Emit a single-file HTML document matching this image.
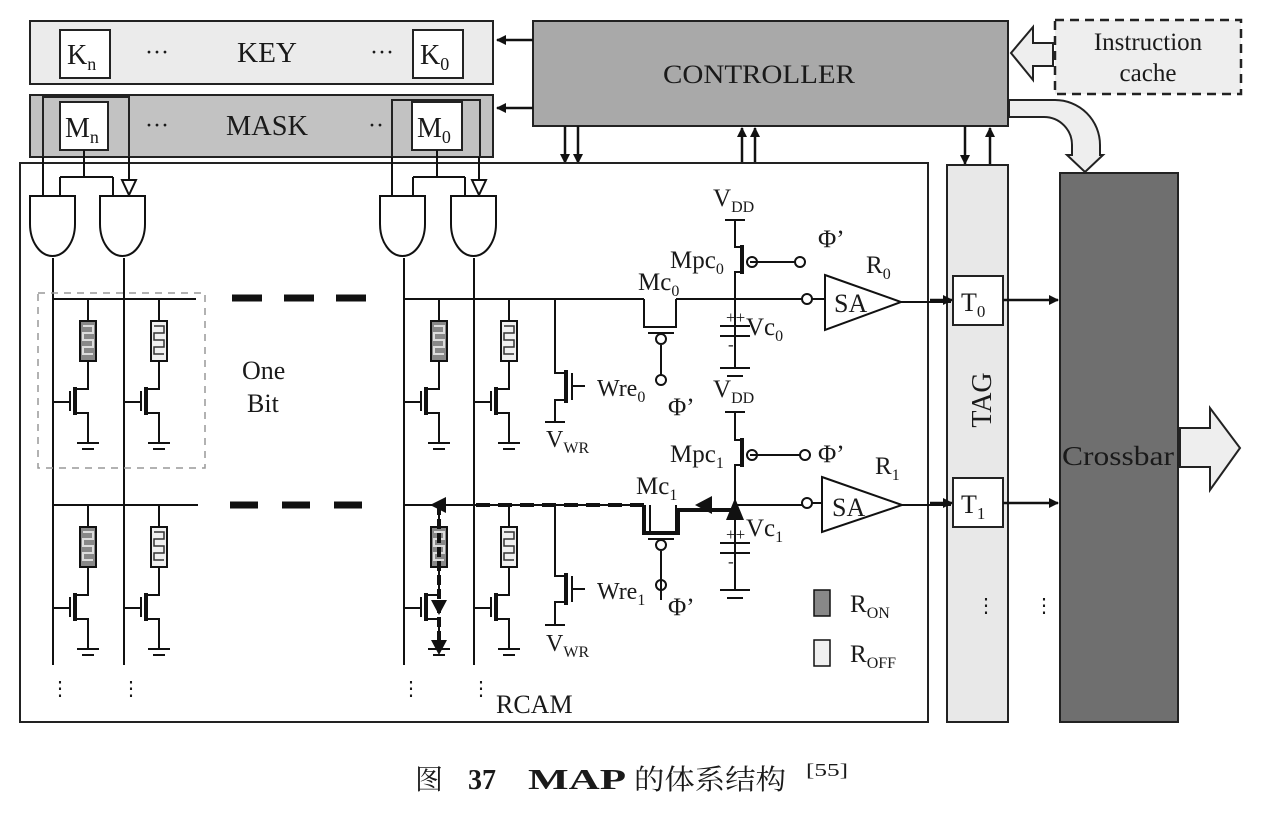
<!DOCTYPE html>
<html><head><meta charset="utf-8"><style>
html,body{margin:0;padding:0;background:#fff;}
svg{display:block;}
text{font-family:"Liberation Serif","Noto Serif CJK SC",serif;fill:#1a1a1a;}
</style></head><body>
<svg width="1280" height="813" viewBox="0 0 1280 813" xmlns="http://www.w3.org/2000/svg">
<defs>
<marker id="ah" markerWidth="10" markerHeight="10" refX="9" refY="5" orient="auto" markerUnits="userSpaceOnUse"><path d="M0,0 L10,5 L0,10 Z" fill="#111"/></marker>
<g id="cellOn" stroke="#111" stroke-width="2" fill="none">
<path d="M35,0 V22 M35,62 V90 H22 M22,114 H35 V144 M24,144 H46 M29,150 H41 M0,103 H17 M17,92 V112"/>
<path d="M22,88 V116" stroke-width="4"/>
<rect x="27" y="22" width="16" height="40" fill="#888"/>
<path d="M30,27 H40 V34 H30 V41 H40 V48 H30 V55 H40" stroke="#ddd" stroke-width="2"/>
</g>
<g id="cellOff" stroke="#111" stroke-width="2" fill="none">
<path d="M35,0 V22 M35,62 V90 H22 M22,114 H35 V144 M24,144 H46 M29,150 H41 M0,103 H17 M17,92 V112"/>
<path d="M22,88 V116" stroke-width="4"/>
<rect x="27" y="22" width="16" height="40" fill="#f0f0f0"/>
<path d="M30,27 H40 V34 H30 V41 H40 V48 H30 V55 H40" stroke="#333" stroke-width="1.5"/>
</g>
<g id="andg" stroke="#111" stroke-width="2" fill="#fff">
<path d="M0,0 H45 V28 A22.5,32 0 0 1 0,28 Z"/>
</g>
</defs>

<!-- KEY -->
<rect x="30" y="21" width="463" height="63" fill="#ebebeb" stroke="#222" stroke-width="2"/>
<rect x="60" y="30" width="50" height="48" fill="#fff" stroke="#222" stroke-width="2"/>
<rect x="413" y="30" width="50" height="48" fill="#fff" stroke="#222" stroke-width="2"/>
<text x="67" y="64" font-size="28">K<tspan font-size="18" dy="6">n</tspan></text>
<text x="420" y="64" font-size="28">K<tspan font-size="18" dy="6">0</tspan></text>
<text x="145" y="60" font-size="24">···</text>
<text x="370" y="60" font-size="24">···</text>
<text x="237" y="62" font-size="28" textLength="60" lengthAdjust="spacingAndGlyphs">KEY</text>
<!-- MASK -->
<rect x="30" y="95" width="463" height="62" fill="#c2c2c2" stroke="#222" stroke-width="2"/>
<rect x="43" y="97" width="86" height="60" fill="none" stroke="#222" stroke-width="2"/>
<rect x="392" y="100" width="88" height="57" fill="none" stroke="#222" stroke-width="2"/>
<rect x="60" y="102" width="48" height="48" fill="#fff" stroke="#222" stroke-width="2"/>
<rect x="412" y="102" width="50" height="48" fill="#fff" stroke="#222" stroke-width="2"/>
<text x="65" y="137" font-size="28">M<tspan font-size="18" dy="6">n</tspan></text>
<text x="417" y="137" font-size="28">M<tspan font-size="18" dy="6">0</tspan></text>
<text x="145" y="133" font-size="24">···</text>
<text x="368" y="133" font-size="24">··</text>
<text x="226" y="135" font-size="28" textLength="82" lengthAdjust="spacingAndGlyphs">MASK</text>

<!-- CONTROLLER -->
<rect x="533" y="21" width="475" height="105" fill="#a9a9a9" stroke="#222" stroke-width="2"/>
<text x="663" y="83" font-size="26" textLength="192" lengthAdjust="spacingAndGlyphs">CONTROLLER</text>
<line x1="533" y1="40" x2="497" y2="40" stroke="#111" stroke-width="2.5" marker-end="url(#ah)"/>
<line x1="533" y1="108" x2="497" y2="108" stroke="#111" stroke-width="2.5" marker-end="url(#ah)"/>
<!-- instruction cache -->
<rect x="1055" y="20" width="186" height="74" fill="#eeeeee" stroke="#222" stroke-width="2.5" stroke-dasharray="9,6"/>
<text x="1148" y="50" font-size="25" text-anchor="middle">Instruction</text>
<text x="1148" y="81" font-size="25" text-anchor="middle">cache</text>
<path d="M1053,43 H1033 V27 L1011,53 L1033,80 V66 H1053 Z" fill="#eee" stroke="#222" stroke-width="2"/>
<!-- curved arrow to crossbar -->
<path d="M1009,100 H1055 A45,45 0 0 1 1100,145 V155 H1103 L1085,172 L1067,155 H1072 V145 A28,28 0 0 0 1044,117 H1009 Z" fill="#eee" stroke="#222" stroke-width="2"/>

<!-- controller arrows -->
<g stroke="#111" stroke-width="2.5">
<line x1="565" y1="126" x2="565" y2="163" marker-end="url(#ah)"/>
<line x1="578" y1="126" x2="578" y2="163" marker-end="url(#ah)"/>
<line x1="742" y1="163" x2="742" y2="128" marker-end="url(#ah)"/>
<line x1="755" y1="163" x2="755" y2="128" marker-end="url(#ah)"/>
<line x1="965" y1="126" x2="965" y2="164" marker-end="url(#ah)"/>
<line x1="990" y1="165" x2="990" y2="128" marker-end="url(#ah)"/>
</g>

<!-- RCAM box -->
<rect x="20" y="163" width="908" height="559" fill="none" stroke="#222" stroke-width="2"/>
<!-- TAG -->
<rect x="947" y="165" width="61" height="557" fill="#e8e8e8" stroke="#222" stroke-width="2"/>
<text transform="translate(991,400) rotate(-90)" font-size="28" text-anchor="middle">TAG</text>
<rect x="953" y="276" width="50" height="49" fill="#fff" stroke="#222" stroke-width="2"/>
<rect x="953" y="478" width="50" height="49" fill="#fff" stroke="#222" stroke-width="2"/>
<text x="961" y="311" font-size="26">T<tspan font-size="17" dy="6">0</tspan></text>
<text x="961" y="513" font-size="26">T<tspan font-size="17" dy="6">1</tspan></text>
<!-- Crossbar -->
<rect x="1060" y="173" width="118" height="549" fill="#6f6f6f" stroke="#222" stroke-width="2"/>
<text x="1062" y="465" font-size="27" textLength="112" lengthAdjust="spacingAndGlyphs">Crossbar</text>
<path d="M1180,428 H1210 V408 L1240,448 L1210,490 V467 H1180 Z" fill="#eee" stroke="#222" stroke-width="2"/>

<!-- gate wiring -->
<g stroke="#111" stroke-width="2" fill="none">
<path d="M43,157 V196 M129,157 V180 M84,150 V177 M60,177 H113 M60,177 V196 M113,177 V196"/>
<path d="M392,157 V196 M479,157 V180 M437,150 V177 M413,177 H465 M413,177 V196 M465,177 V196"/>
<path d="M122,180 H136 L129,195 Z M472,180 H486 L479,195 Z" fill="#fff"/>
</g>
<use href="#andg" x="30" y="196"/>
<use href="#andg" x="100" y="196"/>
<use href="#andg" x="380" y="196"/>
<use href="#andg" x="451" y="196"/>

<!-- bitlines -->
<g stroke="#111" stroke-width="2">
<line x1="53" y1="258" x2="53" y2="665"/>
<line x1="124" y1="258" x2="124" y2="665"/>
<line x1="404" y1="258" x2="404" y2="665"/>
<line x1="474" y1="258" x2="474" y2="665"/>
<line x1="53" y1="299" x2="196" y2="299"/>
<line x1="53" y1="505" x2="198" y2="505"/>
<line x1="404" y1="299" x2="644" y2="299"/>
<line x1="404" y1="505" x2="644" y2="505"/>
</g>
<g stroke="#111" stroke-width="7">
<path d="M232,298 H262 M284,298 H314 M336,298 H366"/>
<path d="M230,505 H258 M282,505 H310 M334,505 H362"/>
</g>
<rect x="38" y="293" width="167" height="175" fill="none" stroke="#999" stroke-width="1.5" stroke-dasharray="7,6"/>
<text x="242" y="379" font-size="26">One</text>
<text x="247" y="412" font-size="26">Bit</text>

<use href="#cellOn" x="53" y="299"/>
<use href="#cellOff" x="124" y="299"/>
<use href="#cellOn" x="404" y="299"/>
<use href="#cellOff" x="474" y="299"/>
<use href="#cellOn" x="53" y="505"/>
<use href="#cellOff" x="124" y="505"/>
<use href="#cellOn" x="404" y="505"/>
<use href="#cellOff" x="474" y="505"/>

<!-- bold highlight in row1 -->
<g stroke="#111" stroke-width="4" fill="none">
<path d="M439,505 V650" stroke-dasharray="10,4"/>
<path d="M476,505 H644" stroke-dasharray="14,8"/>
</g>
<path d="M430,505 L446,497 V513 Z M431,600 H447 L439,615 Z M431,640 H447 L439,655 Z" fill="#111"/>

<!-- VWR transistors -->
<g stroke="#111" stroke-width="2" fill="none">
<path d="M555,299 V373 H566 M566,400 H555 V422 M545,422 H565 M572,373 V400 M572,386 H585"/>
<path d="M566,370 V403" stroke-width="4"/>
<path d="M555,505 V576 H566 M566,602 H555 V625 M545,625 H565 M572,576 V602 M572,589 H585"/>
<path d="M566,573 V605" stroke-width="4"/>
</g>
<text x="597" y="396" font-size="24">Wre<tspan font-size="16" dy="6">0</tspan></text>
<text x="597" y="599" font-size="24">Wre<tspan font-size="16" dy="6">1</tspan></text>
<text x="546" y="447" font-size="24">V<tspan font-size="16" dy="6">WR</tspan></text>
<text x="546" y="651" font-size="24">V<tspan font-size="16" dy="6">WR</tspan></text>

<!-- row 0 right circuit -->
<g stroke="#111" stroke-width="2" fill="none">
<path d="M644,299 V327 H676 V299 M648,333 H674 M661,345 V375 M676,299 H802 M735,220 V247 H742 M742,272 H735 V340 M725,220 H745 M735,340 V368 M720,368 H750 M727,376 H743 M720,326 H750 M720,336 H750 M750,262 H795"/>
<path d="M742,245 V274" stroke-width="4"/>
<circle cx="661" cy="339" r="5"/><circle cx="661" cy="380" r="5"/>
<circle cx="752" cy="262" r="5"/><circle cx="800" cy="262" r="5"/>
<circle cx="807" cy="299" r="5"/>
<path d="M812,299 H825 M825,275 L901,302 L825,330 Z M901,302 H951"/>
</g>
<!-- row 1 -->
<g stroke="#111" stroke-width="2" fill="none">
<path d="M650,505 V533 H676 V505 M648,539 H674 M661,551 V600 M735,412 V440 H742 M742,465 H735 V590 M725,412 H745 M720,590 H750 M727,598 H743 M720,543 H750 M720,553 H750 M750,455 H800 M735,505 H802"/>
<path d="M742,438 V467" stroke-width="4"/>
<path d="M644,505 V533 H678 V510 H735" stroke-width="4"/>
<circle cx="661" cy="545" r="5"/><circle cx="661" cy="585" r="5"/>
<circle cx="752" cy="455" r="5"/><circle cx="805" cy="455" r="5"/>
<circle cx="807" cy="503" r="5"/>
<path d="M812,503 H822 M822,477 L902,505 L822,532 Z M902,505 H951"/>
</g>
<path d="M695,505 L712,496 V514 Z M735,498 L726,520 H744 Z" fill="#111"/>
<g font-size="17" fill="#111"><text x="726" y="323">++</text><text x="728" y="350">-</text><text x="726" y="540">++</text><text x="728" y="567">-</text></g>
<!-- arrows from SA to T, T to crossbar -->
<g stroke="#111" stroke-width="2.5">
<line x1="930" y1="300" x2="952" y2="300" marker-end="url(#ah)"/>
<line x1="1003" y1="300" x2="1058" y2="300" marker-end="url(#ah)"/>
<line x1="930" y1="503" x2="952" y2="503" marker-end="url(#ah)"/>
<line x1="1003" y1="503" x2="1058" y2="503" marker-end="url(#ah)"/>
</g>

<!-- labels -->
<g font-size="25">
<text x="713" y="206">V<tspan font-size="16" dy="6">DD</tspan></text>
<text x="713" y="397">V<tspan font-size="16" dy="6">DD</tspan></text>
<text x="670" y="268">Mpc<tspan font-size="16" dy="6">0</tspan></text>
<text x="670" y="462">Mpc<tspan font-size="16" dy="6">1</tspan></text>
<text x="638" y="290">Mc<tspan font-size="16" dy="6">0</tspan></text>
<text x="636" y="494">Mc<tspan font-size="16" dy="6">1</tspan></text>
<text x="746" y="335">Vc<tspan font-size="16" dy="6">0</tspan></text>
<text x="746" y="536">Vc<tspan font-size="16" dy="6">1</tspan></text>
<text x="818" y="247">Φ’</text>
<text x="818" y="462">Φ’</text>
<text x="668" y="415">Φ’</text>
<text x="668" y="615">Φ’</text>
<text x="866" y="273">R<tspan font-size="16" dy="6">0</tspan></text>
<text x="875" y="474">R<tspan font-size="16" dy="6">1</tspan></text>
<text x="834" y="312" font-size="26">SA</text>
<text x="832" y="516" font-size="26">SA</text>
<text x="850" y="612">R<tspan font-size="16" dy="6">ON</tspan></text>
<text x="850" y="662">R<tspan font-size="16" dy="6">OFF</tspan></text>
<text x="496" y="713" font-size="26">RCAM</text>
</g>
<rect x="814" y="590" width="16" height="26" fill="#888" stroke="#111" stroke-width="1.5"/>
<rect x="814" y="640" width="16" height="26" fill="#f0f0f0" stroke="#111" stroke-width="1.5"/>
<g font-size="20">
<text x="50" y="695">⋮</text><text x="121" y="695">⋮</text>
<text x="401" y="695">⋮</text><text x="471" y="695">⋮</text>
<text x="976" y="612">⋮</text><text x="1034" y="612">⋮</text>
</g>
<!-- caption -->
<g font-size="28">
<text x="415" y="789">图</text>
<text x="468" y="789" font-weight="bold">37</text>
<text x="528" y="789" font-weight="bold" textLength="98" lengthAdjust="spacingAndGlyphs">MAP</text>
<text x="634" y="789" textLength="152" lengthAdjust="spacingAndGlyphs">的体系结构</text>
<text x="806" y="776" font-size="18" textLength="42" lengthAdjust="spacingAndGlyphs">[55]</text>
</g>
</svg>
</body></html>
